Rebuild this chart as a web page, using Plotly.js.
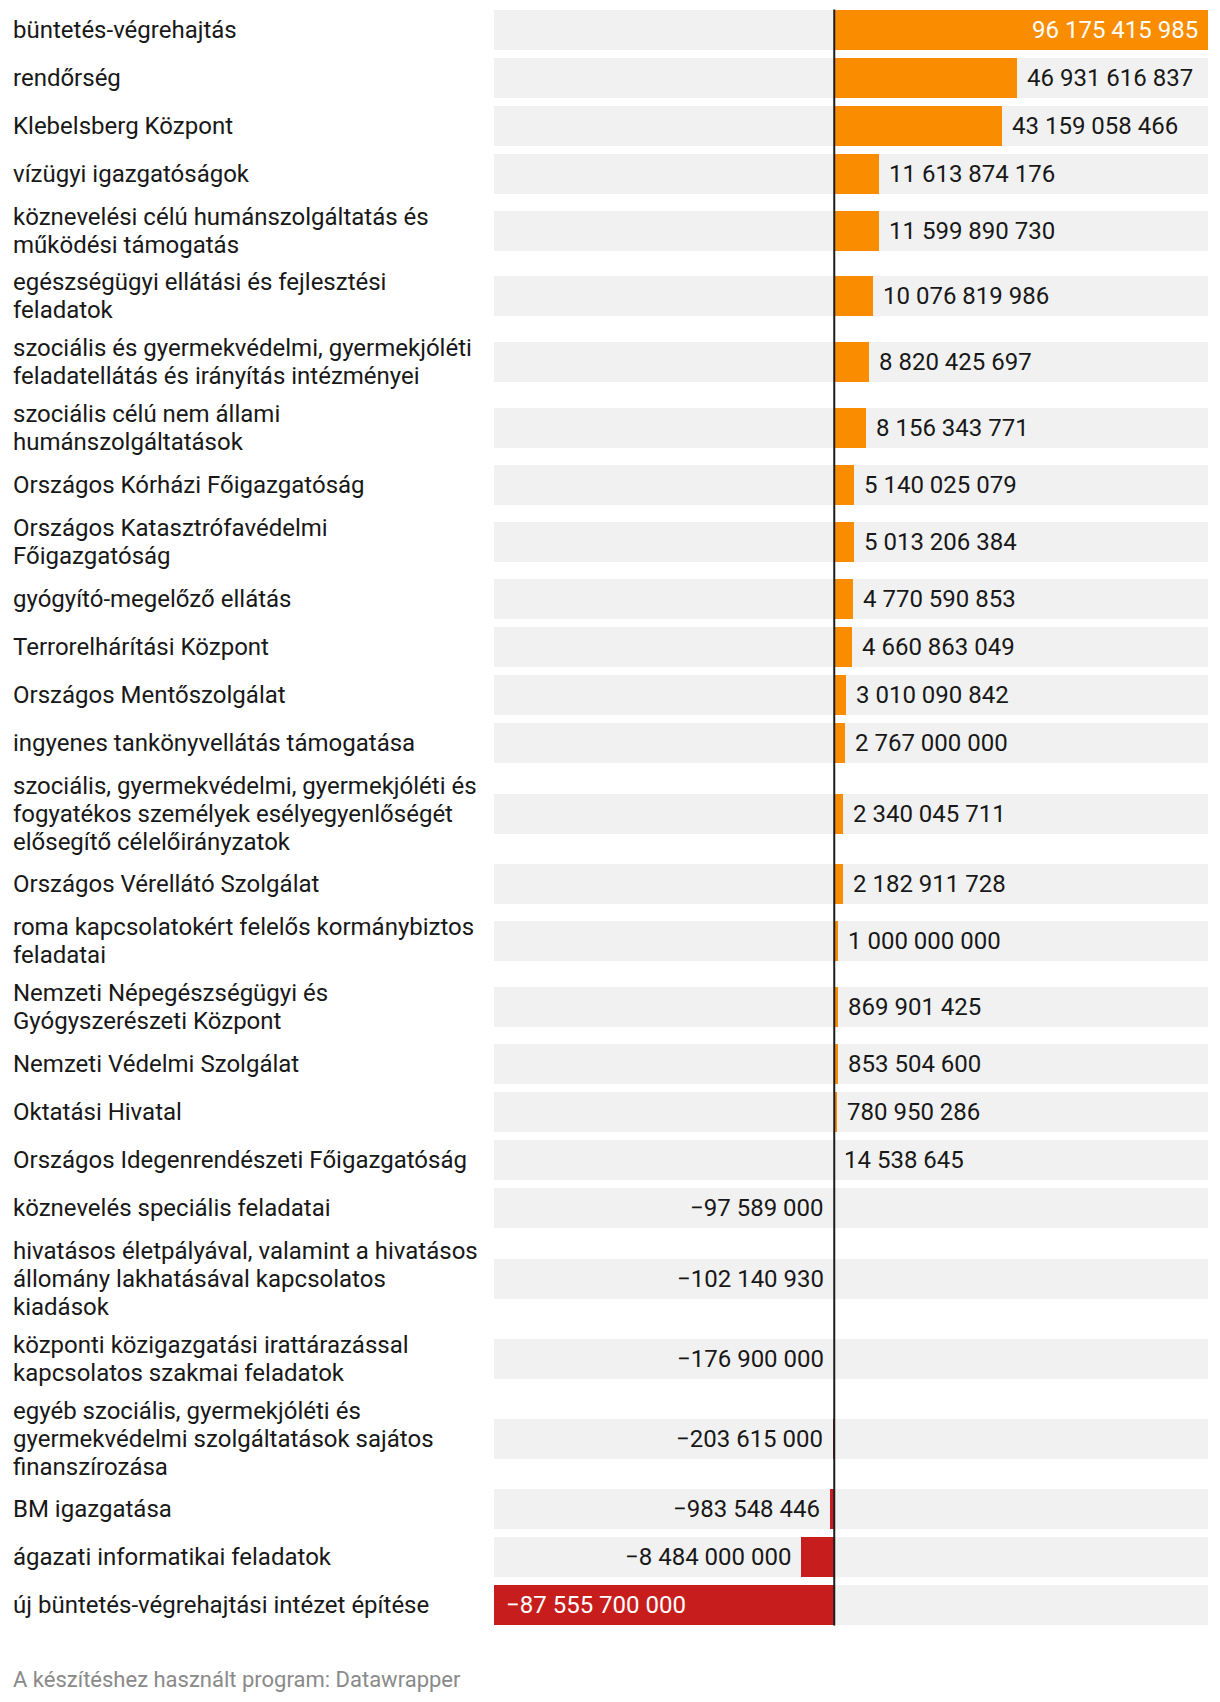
<!DOCTYPE html>
<html>
<head>
<meta charset="utf-8">
<script src="https://cdn.plot.ly/plotly-3.0.1.min.js"></script>
<style>
html,body{margin:0;padding:0;background:#fff;}
#chart{width:1220px;height:1702px;}
</style>
</head>
<body>
<div id="chart"></div>
<script>
// ---- data ----
const categories = [
  "büntetés-végrehajtás",
  "rendőrség",
  "Klebelsberg Központ",
  "vízügyi igazgatóságok",
  "köznevelési célú humánszolgáltatás és<br>működési támogatás",
  "egészségügyi ellátási és fejlesztési<br>feladatok",
  "szociális és gyermekvédelmi, gyermekjóléti<br>feladatellátás és irányítás intézményei",
  "szociális célú nem állami<br>humánszolgáltatások",
  "Országos Kórházi Főigazgatóság",
  "Országos Katasztrófavédelmi<br>Főigazgatóság",
  "gyógyító-megelőző ellátás",
  "Terrorelhárítási Központ",
  "Országos Mentőszolgálat",
  "ingyenes tankönyvellátás támogatása",
  "szociális, gyermekvédelmi, gyermekjóléti és<br>fogyatékos személyek esélyegyenlőségét<br>elősegítő célelőirányzatok",
  "Országos Vérellátó Szolgálat",
  "roma kapcsolatokért felelős kormánybiztos<br>feladatai",
  "Nemzeti Népegészségügyi és<br>Gyógyszerészeti Központ",
  "Nemzeti Védelmi Szolgálat",
  "Oktatási Hivatal",
  "Országos Idegenrendészeti Főigazgatóság",
  "köznevelés speciális feladatai",
  "hivatásos életpályával, valamint a hivatásos<br>állomány lakhatásával kapcsolatos<br>kiadások",
  "központi közigazgatási irattárazással<br>kapcsolatos szakmai feladatok",
  "egyéb szociális, gyermekjóléti és<br>gyermekvédelmi szolgáltatások sajátos<br>finanszírozása",
  "BM igazgatása",
  "ágazati informatikai feladatok",
  "új büntetés-végrehajtási intézet építése"
];
const values = [
  96175415985, 46931616837, 43159058466, 11613874176, 11599890730,
  10076819986, 8820425697, 8156343771, 5140025079, 5013206384,
  4770590853, 4660863049, 3010090842, 2767000000, 2340045711,
  2182911728, 1000000000, 869901425, 853504600, 780950286,
  14538645, -97589000, -102140930, -176900000, -203615000,
  -983548446, -8484000000, -87555700000
];
const footerText = "A készítéshez használt program: Datawrapper";

// ---- styles / layout constants ----
const W = 1220, H = 1702;
const plotLeft = 494, plotRight = 1208;
const plotW = plotRight - plotLeft;
const barH = 40, rowMin = 48, lineH = 28, rowPad = 9.8, topStart = 5.6;
const FONT = "Roboto, 'Open Sans', sans-serif";
const POS = "#fa8c00", NEG = "#c71e1d", BG = "#f1f1f1";

const xmin = Math.min(...values), xmax = Math.max(...values);

// row centres computed from the number of label lines
const centers = [];
let cur = topStart;
categories.forEach(c => {
  const n = c.split("<br>").length;
  const h = Math.max(rowMin, n * lineH + rowPad);
  centers.push(cur + h / 2);
  cur += h;
});

function fmt(v) {
  const s = Math.abs(v).toString().replace(/\B(?=(\d{3})+(?!\d))/g, " ");
  return (v < 0 ? "\u2212" : "") + s;
}

const labelX = (10.5 - plotLeft) / plotW;
const annotations = [];
// category labels (one annotation per line)
categories.forEach((c, i) => {
  const lines = c.split("<br>");
  lines.forEach((ln, j) => {
    annotations.push({
      xref: "paper", yref: "y",
      x: labelX, xanchor: "left",
      y: centers[i] + (j - (lines.length - 1) / 2) * lineH, yanchor: "middle",
      text: ln, showarrow: false, align: "left",
      font: {family: FONT, size: 24, color: "#181818"}
    });
  });
});
// value labels
values.forEach((v, i) => {
  const txt = fmt(v);
  const digits = txt.replace(/[^0-9]/g, "").length;
  const spaces = (txt.match(/ /g) || []).length;
  const estW = digits * 13.5 + spaces * 6 + (v < 0 ? 14 : 0);
  const barPx = Math.abs(v) / (xmax - xmin) * plotW;
  const inside = barPx > estW + 24;
  let a = {
    xref: "x", yref: "y", x: v, y: centers[i], yanchor: "middle",
    text: txt, showarrow: false,
    font: {family: FONT, size: 24, color: inside ? "#ffffff" : "#181818"}
  };
  if (v >= 0) {
    a.xanchor = inside ? "right" : "left";
    a.xshift = inside ? -8 : 8;
  } else {
    a.xanchor = inside ? "left" : "right";
    a.xshift = inside ? 10 : -8;
  }
  annotations.push(a);
});
// footer
annotations.push({
  xref: "paper", yref: "y", x: labelX, xanchor: "left",
  y: 1679, yanchor: "middle", text: footerText, showarrow: false,
  font: {family: FONT, size: 22, color: "#8a8a8a"}
});

const bgTrace = {
  type: "bar", orientation: "h",
  y: centers, x: values.map(() => xmax - xmin), base: xmin,
  width: barH, marker: {color: BG, line: {width: 0}},
  hoverinfo: "skip", showlegend: false
};
const barTrace = {
  type: "bar", orientation: "h",
  y: centers, x: values, width: barH,
  marker: {color: values.map(v => v >= 0 ? POS : NEG), line: {width: 0}},
  hoverinfo: "skip", showlegend: false
};

const layout = {
  width: W, height: H,
  margin: {l: plotLeft, r: W - plotRight, t: 0, b: 0, pad: 0},
  paper_bgcolor: "#ffffff", plot_bgcolor: "#ffffff",
  barmode: "overlay", bargap: 0,
  showlegend: false,
  xaxis: {range: [xmin, xmax], visible: false, fixedrange: true},
  yaxis: {range: [H, 0], visible: false, fixedrange: true},
  shapes: [{
    type: "line", xref: "x", yref: "y",
    x0: 0, x1: 0,
    y0: centers[0] - barH / 2, y1: centers[centers.length - 1] + barH / 2,
    line: {color: "#1d1d1d", width: 2}, layer: "above"
  }],
  annotations: annotations,
  hovermode: false
};

Plotly.newPlot("chart", [bgTrace, barTrace], layout, {staticPlot: true, displayModeBar: false});
</script>
</body>
</html>
